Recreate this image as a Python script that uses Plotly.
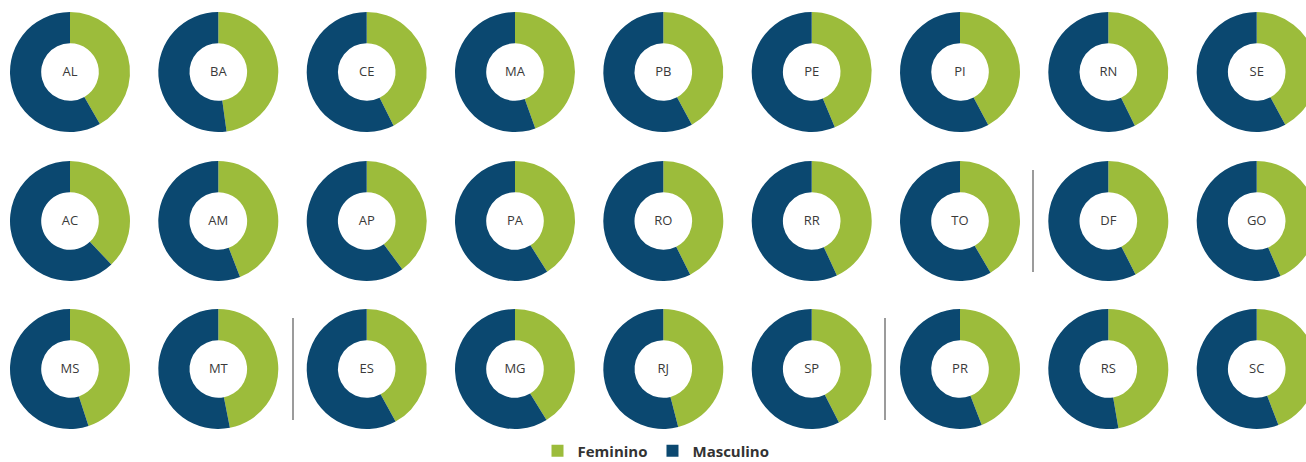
import plotly.graph_objects as go

# Data (female share of each state, read from the donuts)
states_row1 = ["AL", "BA", "CE", "MA", "PB", "PE", "PI", "RN", "SE"]
states_row2 = ["AC", "AM", "AP", "PA", "RO", "RR", "TO", "DF", "GO"]
states_row3 = ["MS", "MT", "ES", "MG", "RJ", "SP", "PR", "RS", "SC"]
feminino_row1 = [41.7, 47.8, 42.6, 44.5, 42.1, 43.7, 42.2, 42.7, 42.1]
feminino_row2 = [37.9, 44.1, 39.9, 41.0, 42.6, 43.1, 41.5, 42.5, 43.5]
feminino_row3 = [45.0, 46.9, 42.0, 41.2, 46.0, 42.5, 44.1, 47.3, 44.1]
categories = ["Feminino", "Masculino"]
colors = ["#9cbc3b", "#0b4870"]

W, H = 1320, 462          # figure is slightly wider than the window; the right column is cropped
VIEW_W = 1306
col_x = [70, 218.3, 366.7, 515, 663.3, 811.7, 960, 1108.3, 1256.7]
row_y = [72, 221, 369]
R = 60

fig = go.Figure()
rows = [(states_row1, feminino_row1), (states_row2, feminino_row2), (states_row3, feminino_row3)]
first = True
for ri, (states, fem) in enumerate(rows):
    for ci, (st, f) in enumerate(zip(states, fem)):
        cx, cy = col_x[ci], row_y[ri]
        fig.add_trace(go.Pie(
            labels=categories,
            values=[f, 100 - f],
            sort=False,
            direction="clockwise",
            rotation=0,
            hole=0.48,
            marker=dict(colors=colors, line=dict(width=0)),
            textinfo="none",
            hoverinfo="label+percent",
            showlegend=first,
            title=dict(text=st, position="middle center",
                       font=dict(family="Open Sans", size=13, color="#3a3a3a")),
            domain=dict(x=[(cx - R) / W, min((cx + R) / W, 1)],
                        y=[max((H - cy - R) / H, 0), min((H - cy + R) / H, 1)]),
        ))
        first = False

sep_lines = [(1033, 170, 272), (293, 318, 420), (885, 318, 420)]
for x, y0, y1 in sep_lines:
    fig.add_shape(type="line", xref="paper", yref="paper",
                  x0=x / W, x1=x / W,
                  y0=(H - y1) / H, y1=(H - y0) / H,
                  line=dict(color="#7a7a7a", width=1.5))

fig.update_layout(
    width=W, height=H,
    margin=dict(l=0, r=0, t=0, b=0, autoexpand=False),
    paper_bgcolor="white", plot_bgcolor="white",
    legend=dict(orientation="h", x=656 / W, xanchor="center",
                y=(H - 451) / H, yanchor="middle",
                font=dict(family="Open Sans", size=15, color="#333333", weight="bold"),
                itemwidth=30, tracegroupgap=0, traceorder="normal"),
)

post = (
    "document.documentElement.style.margin='0';"
    "document.body.style.margin='0';"
    "document.body.style.overflow='hidden';"
    "document.documentElement.style.overflow='hidden';"
    "var d=document.getElementById('{plot_id}');"
    "d.style.width='" + str(VIEW_W) + "px';"
    "d.style.overflow='hidden';"
)
fig.write_html("out.html", post_script=post, config={"displayModeBar": False})
